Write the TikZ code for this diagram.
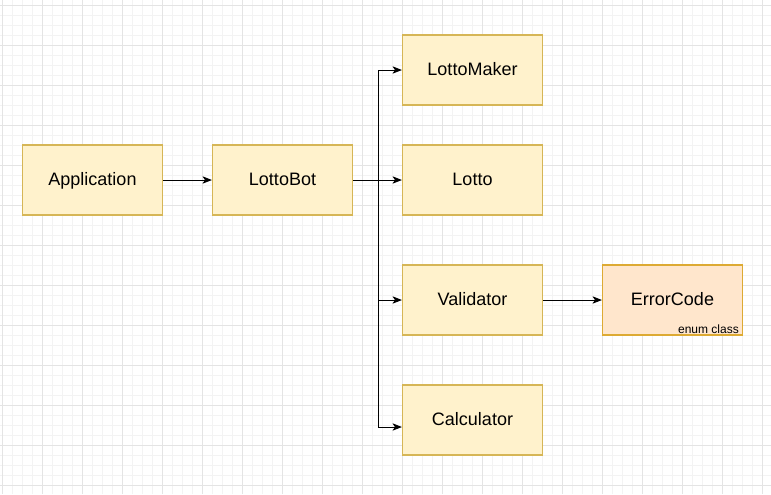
\documentclass[tikz,border=0pt]{standalone}
\usepackage{fontspec}
\setmainfont{Liberation Sans}
\usetikzlibrary{arrows.meta}
\usetikzlibrary{positioning}
\definecolor{boxfill}{HTML}{FFF2CC}
\definecolor{boxline}{HTML}{D6B656}
\definecolor{enumfill}{HTML}{FFE6CC}
\definecolor{enumline}{HTML}{DDAA33}
\definecolor{gridminor}{HTML}{F3F3F3}
\definecolor{gridmajor}{HTML}{E4E4E4}
\tikzset{>={Stealth[length=7pt,width=5.5pt,inset=1.8pt]}}
\tikzstyle{cls} = [rectangle, draw=boxline, fill=boxfill, line width=0.9pt, minimum width=105pt, minimum height=52.5pt, inner sep=0, text height=10pt, text depth=2.5pt, font=\fontsize{13.5}{16}\selectfont]
\tikzstyle{enumcls} = [cls, draw=enumline, fill=enumfill]
\tikzstyle{link} = [->, line width=0.65pt, draw=black]

\begin{document}
\begin{tikzpicture}[x=0.75pt, y=-0.75pt]
\useasboundingbox (0,0) rectangle (771,494);
\fill [white] (0,0) rectangle (771,494);
% grid
\foreach \gx in {2.5,12.5,...,771} \draw [gridminor, line width=0.5pt] (\gx,0) -- (\gx,494);
\foreach \gy in {5,15,...,494} \draw [gridminor, line width=0.5pt] (0,\gy) -- (771,\gy);
\foreach \gx in {2.5,42.5,...,771} \draw [gridmajor, line width=0.6pt] (\gx,0) -- (\gx,494);
\foreach \gy in {5,45,...,494} \draw [gridmajor, line width=0.6pt] (0,\gy) -- (771,\gy);
% classes
\node [cls] (app) at (92.5, 180) {Application};
\node [cls] (bot) at (282.5, 180) {LottoBot};
\node [cls] (maker) at (472.5, 70) {LottoMaker};
\node [cls] (lotto) at (472.5, 180) {Lotto};
\node [cls] (valid) at (472.5, 300) {Validator};
\node [cls] (calc) at (472.5, 420) {Calculator};
\node [enumcls] (err) at (672.5, 300) {ErrorCode};
\node [anchor=south east, inner sep=1pt, font=\fontsize{9}{10}\selectfont] (errtag) at ([xshift=-2pt, yshift=0pt]err.south east) {enum class};
% links
\coordinate (split) at (378, 180);
\draw [link] (app) to (bot);
\draw [link] (bot) to (lotto);
\draw [link] (split) |- (maker.west);
\draw [link] (split) |- (valid.west);
\draw [link] (split) |- ([yshift=-5.25pt]calc.west);
\draw [link] (valid) to (err);
\end{tikzpicture}
\end{document}
